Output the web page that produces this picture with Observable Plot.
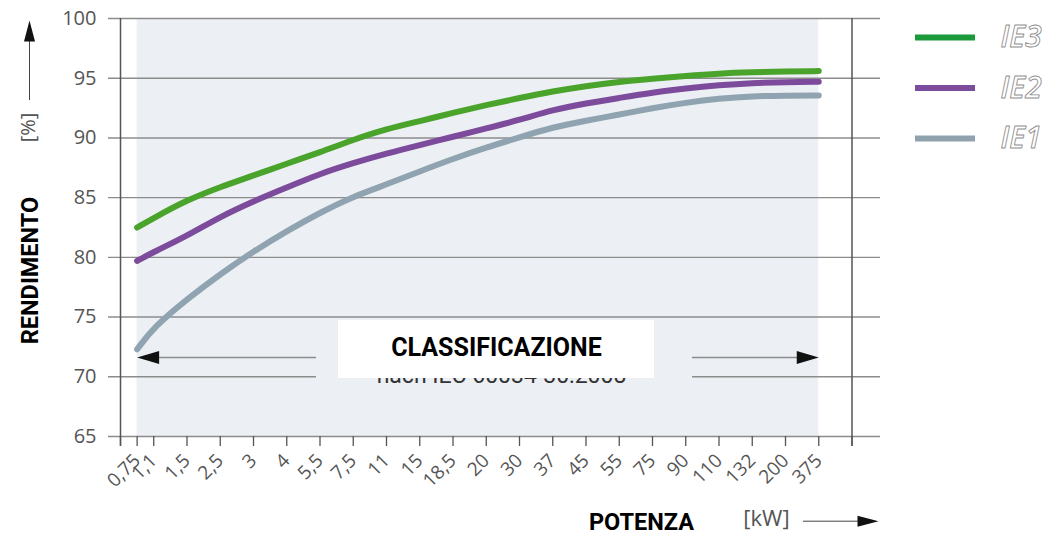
<!DOCTYPE html>
<html><head><meta charset="utf-8">
<script src="https://cdn.jsdelivr.net/npm/d3@7"></script>
<script src="https://cdn.jsdelivr.net/npm/@observablehq/plot@0.6"></script>
<style>html,body{margin:0;padding:0;background:#fff;overflow:hidden}</style>
</head><body><div id="chart"></div>
<script>
// ---- data ----
const kwLabels = ["0,75","1,1","1,5","2,5","3","4","5,5","7,5","11","15","18,5","20","30","37","45","55","75","90","110","132","200","375"];
const ie3 = [82.5, 83.3, 84.8, 85.9, 86.85, 87.85, 88.8, 89.85, 90.75, 91.4, 92.1, 92.75, 93.35, 93.9, 94.35, 94.7, 94.95, 95.2, 95.4, 95.5, 95.56, 95.6];
const ie2 = [79.7, 80.45, 81.8, 83.4, 84.7, 85.85, 87.0, 87.9, 88.7, 89.4, 90.1, 90.8, 91.5, 92.35, 92.9, 93.35, 93.8, 94.15, 94.42, 94.6, 94.67, 94.7];
const ie1 = [72.3, 74.15, 76.5, 78.6, 80.5, 82.2, 83.75, 85.1, 86.1, 87.2, 88.25, 89.2, 90.05, 90.9, 91.45, 91.95, 92.5, 92.95, 93.3, 93.5, 93.55, 93.55];
const yTicks = [65, 70, 75, 80, 85, 90, 95, 100];
const seriesNames = ["IE3", "IE2", "IE1"];

// ---- layout ----
const W = 1059, H = 536;
const X0 = 120, STEP = 33.25;
const FL = 108, FR = 880, FT = 18, FB = 436;
const xi = px => (px - X0) / STEP;
const yv = py => 100 - (py - FT) * 35 / (FB - FT);

const curveColors = {IE3: "#4aa32a", IE2: "#7d4b9b", IE1: "#8fa4b0"};
const legendColors = {IE3: "#1a9a3b", IE2: "#7d4b9b", IE1: "#8fa2ad"};

const pos = kwLabels.map((d, i) => i === 0 ? 0.5 : i);
const lastPos = pos[pos.length - 1];
const endPos = kwLabels.length;
const rows = s => s.map((v, i) => ({pos: pos[i], value: v, kw: kwLabels[i]}));
const labelByPos = new Map(pos.map((p, i) => [p, kwLabels[i]]));
const tickPos = [0, ...pos, endPos];

const head = {draw(ctx) { ctx.moveTo(0, 0); ctx.lineTo(-22, -6.5); ctx.lineTo(-22, 6.5); ctx.closePath(); }};
const headSmall = {draw(ctx) { ctx.moveTo(0, 0); ctx.lineTo(-21, -5.5); ctx.lineTo(-21, 5.5); ctx.closePath(); }};

const gridColor = "#8c8c8c";
const arrowY = yv(357);

const chart = Plot.plot({
  width: W, height: H,
  marginLeft: FL, marginRight: W - FR, marginTop: FT, marginBottom: H - FB,
  x: {domain: [xi(FL), xi(FR)]},
  y: {domain: [65, 100]},
  style: {fontFamily: "'Open Sans', sans-serif", background: "white", overflow: "visible"},
  marks: [
    Plot.rect([0], {x1: pos[0], x2: lastPos, y1: 65, y2: 100, fill: "#eceff3"}),
    Plot.ruleY(yTicks.filter(d => d !== 70), {stroke: gridColor, strokeWidth: 1.4}),
    Plot.ruleY([70], {x1: xi(FL), x2: xi(316), stroke: gridColor, strokeWidth: 1.4}),
    Plot.ruleY([70], {x1: xi(692), x2: xi(FR), stroke: gridColor, strokeWidth: 1.4}),
    Plot.ruleX([0, endPos], {y1: yv(446), y2: 100, stroke: "#555", strokeWidth: 1.5}),
    // classification arrows
    Plot.ruleY([arrowY], {x1: xi(316), x2: xi(150), stroke: gridColor, strokeWidth: 1.4}),
    Plot.ruleY([arrowY], {x1: xi(692), x2: xi(805), stroke: gridColor, strokeWidth: 1.4}),
    Plot.dot([0], {x: pos[0], y: arrowY, symbol: head, rotate: 180, fill: "#111", stroke: "none"}),
    Plot.dot([0], {x: lastPos, y: arrowY, symbol: head, rotate: 0, fill: "#111", stroke: "none"}),
    // curves
    Plot.line(rows(ie1), {x: "pos", y: "value", stroke: curveColors.IE1, strokeWidth: 6, curve: "basis"}),
    Plot.line(rows(ie2), {x: "pos", y: "value", stroke: curveColors.IE2, strokeWidth: 6, curve: "basis"}),
    Plot.line(rows(ie3), {x: "pos", y: "value", stroke: curveColors.IE3, strokeWidth: 6, curve: "basis"}),
    // classification box
    Plot.text(["nach IEC 60034-30:2008"], {x: xi(501), y: yv(375), text: d => d, fontSize: 23, fontFamily: "Roboto", fill: "#333"}),
    Plot.rect([0], {x1: xi(338), x2: xi(654), y1: yv(378), y2: yv(320), fill: "white"}),
    Plot.text(["CLASSIFICAZIONE"], {x: xi(496), y: yv(347.5), text: d => d, fontSize: 25, fontWeight: "bold", fontFamily: "Roboto", fill: "#000"}),
    // axes
    Plot.axisX(tickPos, {tickFormat: d => labelByPos.get(d) ?? "", tickSize: 10, tickRotate: -45, tickPadding: 11,
      fontSize: 19, fill: "#555", stroke: "#555", strokeWidth: 1.3, label: null}),
    Plot.axisY(yTicks, {tickSize: 0, tickPadding: 12, fontSize: 20, fill: "#555", label: null}),
    // axis titles
    Plot.text(["RENDIMENTO"], {x: xi(30), y: yv(270), text: d => d, rotate: -90, fontSize: 23.5, fontWeight: "bold", fontFamily: "Roboto", fill: "#000"}),
    Plot.text(["[%]"], {x: xi(28), y: yv(127), text: d => d, rotate: -90, fontSize: 20, fill: "#555"}),
    Plot.ruleX([xi(29)], {y1: yv(100), y2: yv(36), stroke: "#444", strokeWidth: 1}),
    Plot.dot([0], {x: xi(29), y: yv(20), symbol: headSmall, rotate: -90, fill: "#111", stroke: "none"}),
    Plot.text(["POTENZA"], {x: xi(641), y: yv(522), text: d => d, fontSize: 23.5, fontWeight: "bold", fontFamily: "Roboto", fill: "#000"}),
    Plot.text(["[kW]"], {x: xi(766), y: yv(518), text: d => d, fontSize: 22, fill: "#555", letterSpacing: 1}),
    Plot.ruleY([yv(520.7)], {x1: xi(803), x2: xi(862), stroke: "#444", strokeWidth: 1}),
    Plot.dot([0], {x: xi(878), y: yv(520.7), symbol: headSmall, rotate: 0, fill: "#111", stroke: "none"}),
    // legend
    ...seriesNames.map((name, i) => Plot.ruleY([yv(37 + 50.5 * i)], {x1: xi(915), x2: xi(975), stroke: legendColors[name], strokeWidth: 6})),
    Plot.text(seriesNames, {x: xi(1000), y: (d, i) => yv(37 + 50.5 * i), text: d => d, textAnchor: "start",
      fontSize: 30, fontStyle: "italic", fontWeight: 600, fill: "white", stroke: "#8e8e8e", strokeWidth: 0.9, paintOrder: "fill"})
  ]
});
document.getElementById("chart").appendChild(chart);
</script>
</body></html>
